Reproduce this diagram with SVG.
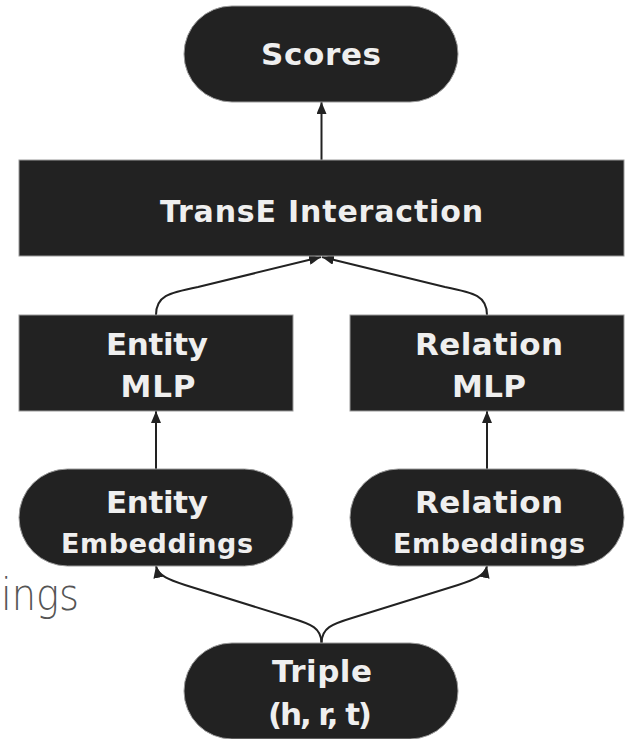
<svg xmlns="http://www.w3.org/2000/svg" width="629" height="739" viewBox="0 0 629 739">
  <style>
    .node { fill: #222222; stroke: #9a9a9a; stroke-width: 1; }
    .label { fill: #efefef; font-family: "DejaVu Sans", "Open Sans", sans-serif; font-weight: 700; text-anchor: middle; }
    .big { font-size: 31px; }
    .wide { font-size: 30px; }
    .small { font-size: 27px; }
    .edge { fill: none; stroke: #222222; stroke-width: 2; marker-end: url(#arrow); }
    .stray { fill: #555555; font-family: "DejaVu Sans", sans-serif; font-weight: 200; font-size: 44px; }
  </style>
  <defs>
    <marker id="arrow" markerUnits="userSpaceOnUse" markerWidth="12" markerHeight="10" refX="12" refY="5" orient="auto">
      <path d="M0,0 L12,5 L0,10 z" fill="#222222"/>
    </marker>
  </defs>

  <rect width="629" height="739" fill="#ffffff"/>

  <!-- partly hidden caption at the left edge -->
  <text class="stray" x="1" y="610" textLength="78" lengthAdjust="spacingAndGlyphs">ings</text>

  <!-- connectors -->
  <g id="edges">
    <path class="edge" d="M321.5,160 L321.5,102"/>
    <path class="edge" d="M156,315 C156,296 168,293 198,287 L321,257"/>
    <path class="edge" d="M487,315 C487,296 475,293 445,287 L322,257"/>
    <path class="edge" d="M156,469 L156,411"/>
    <path class="edge" d="M487,469 L487,411"/>
    <path class="edge" d="M321.5,643 C321.5,628 311,624 291,618 L185,585 C170,580 158,576 156,566"/>
    <path class="edge" d="M321.5,643 C321.5,628 332,624 352,618 L458,585 C473,580 485,576 487,566"/>
  </g>

  <g id="scores">
    <rect class="node" x="184" y="6" width="274" height="96" rx="48" ry="48"/>
    <text class="label big" x="321" y="65" textLength="120">Scores</text>
  </g>

  <g id="transe-interaction">
    <rect class="node" x="19" y="160" width="605" height="96"/>
    <text class="label wide" x="321.5" y="222" textLength="323">TransE Interaction</text>
  </g>

  <g id="entity-mlp">
    <rect class="node" x="19" y="315" width="274" height="96"/>
    <text class="label big" x="157" y="355" textLength="102">Entity</text>
    <text class="label big" x="158" y="397" textLength="75">MLP</text>
  </g>

  <g id="relation-mlp">
    <rect class="node" x="350" y="315" width="274" height="96"/>
    <text class="label big" x="489" y="355" textLength="148">Relation</text>
    <text class="label big" x="489" y="397" textLength="74">MLP</text>
  </g>

  <g id="entity-embeddings">
    <rect class="node" x="19" y="469" width="274" height="97" rx="48.5" ry="48.5"/>
    <text class="label big" x="157" y="513" textLength="102">Entity</text>
    <text class="label small" x="157" y="553" textLength="192">Embeddings</text>
  </g>

  <g id="relation-embeddings">
    <rect class="node" x="350" y="469" width="274" height="97" rx="48.5" ry="48.5"/>
    <text class="label big" x="489" y="513" textLength="148">Relation</text>
    <text class="label small" x="489" y="553" textLength="192">Embeddings</text>
  </g>

  <g id="triple">
    <rect class="node" x="184" y="643" width="274" height="96" rx="48" ry="48"/>
    <text class="label big" x="322" y="682" textLength="100">Triple</text>
    <text class="label big" x="320" y="725" textLength="104">(h, r, t)</text>
  </g>
</svg>
